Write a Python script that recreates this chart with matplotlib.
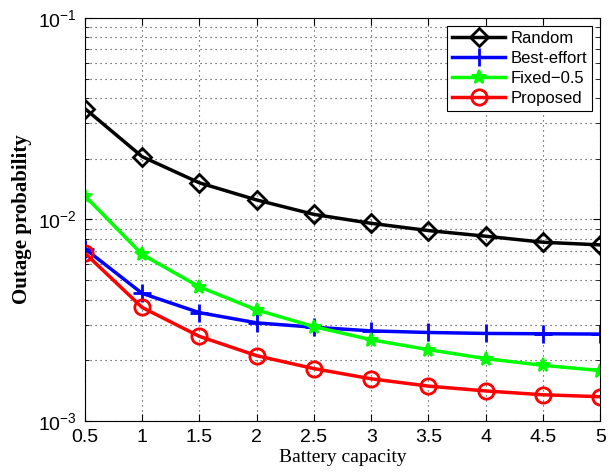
import numpy as np
import matplotlib
matplotlib.use('Agg')
import matplotlib.pyplot as plt
from matplotlib.ticker import LogLocator, NullFormatter

# data
capacity = [0.5, 1, 1.5, 2, 2.5, 3, 3.5, 4, 4.5, 5]
random_op = [0.0355, 0.0205, 0.0152, 0.0125, 0.0106, 0.00957, 0.00881, 0.00826, 0.00771, 0.00748]
best_effort = [0.00716, 0.0043, 0.00345, 0.00307, 0.00292, 0.0028, 0.00275, 0.00272, 0.00271, 0.0027]
fixed_05 = [0.0131, 0.00671, 0.00463, 0.00356, 0.00294, 0.00253, 0.00226, 0.00204, 0.00189, 0.00178]
proposed = [0.00681, 0.00366, 0.00263, 0.00211, 0.00182, 0.00162, 0.00149, 0.00141, 0.00135, 0.00132]
x_ticks = [0.5, 1, 1.5, 2, 2.5, 3, 3.5, 4, 4.5, 5]
x_tick_labels = ['0.5', '1', '1.5', '2', '2.5', '3', '3.5', '4', '4.5', '5']

plt.rcParams['font.family'] = ['Liberation Sans', 'DejaVu Sans']

fig = plt.figure(figsize=(6.15, 4.72), dpi=100)
ax = fig.add_axes([0.138, 0.108, 0.838, 0.854])

lw = 2.5
ax.plot(capacity, random_op, color='black', lw=lw, marker='D', ms=9, mfc='none',
        mew=2, label='Random')
ax.plot(capacity, best_effort, color='blue', lw=lw, marker='+', ms=13, mew=2,
        label='Best-effort')
ax.plot(capacity, fixed_05, color='#00ff00', lw=lw, marker='*', ms=10, mew=1.5,
        label='Fixed\u22120.5')
ax.plot(capacity, proposed, color='red', lw=lw, marker='o', ms=11, mfc='none',
        mew=2, label='Proposed')

ax.set_yscale('log')
ax.set_xlim(0.5, 5)
ax.set_ylim(1e-3, 1e-1)
ax.set_xticks(x_ticks)
ax.set_xticklabels(x_tick_labels)
ax.yaxis.set_major_locator(LogLocator(base=10, numticks=10))
ax.yaxis.set_minor_locator(LogLocator(base=10, subs=np.arange(2, 10), numticks=20))
ax.yaxis.set_minor_formatter(NullFormatter())

# matlab-like dotted grid
ax.grid(True, which='major', color='#333333', linestyle=(0, (1, 3.5)), lw=0.8)
ax.grid(True, which='minor', axis='y', color='#333333', linestyle=(0, (1, 3.5)), lw=0.8)
ax.tick_params(which='both', direction='in', top=True, right=True)
ax.tick_params(which='major', length=5, labelsize=14, pad=6)
ax.tick_params(which='minor', length=3)
for s in ax.spines.values():
    s.set_linewidth(0.8)

ax.set_xlabel('Battery capacity', family='Liberation Serif', fontsize=14, labelpad=2)
ax.set_ylabel('Outage probability', family='Liberation Serif', fontsize=15,
              fontweight='bold', labelpad=4)

leg = ax.legend(loc='upper right', fontsize=12, fancybox=False, edgecolor='black',
                framealpha=1, handlelength=3.2, borderpad=0.3, labelspacing=0.3,
                handletextpad=0.3, borderaxespad=0.5)
leg.get_frame().set_linewidth(0.8)

fig.savefig('out.png', dpi=100)
